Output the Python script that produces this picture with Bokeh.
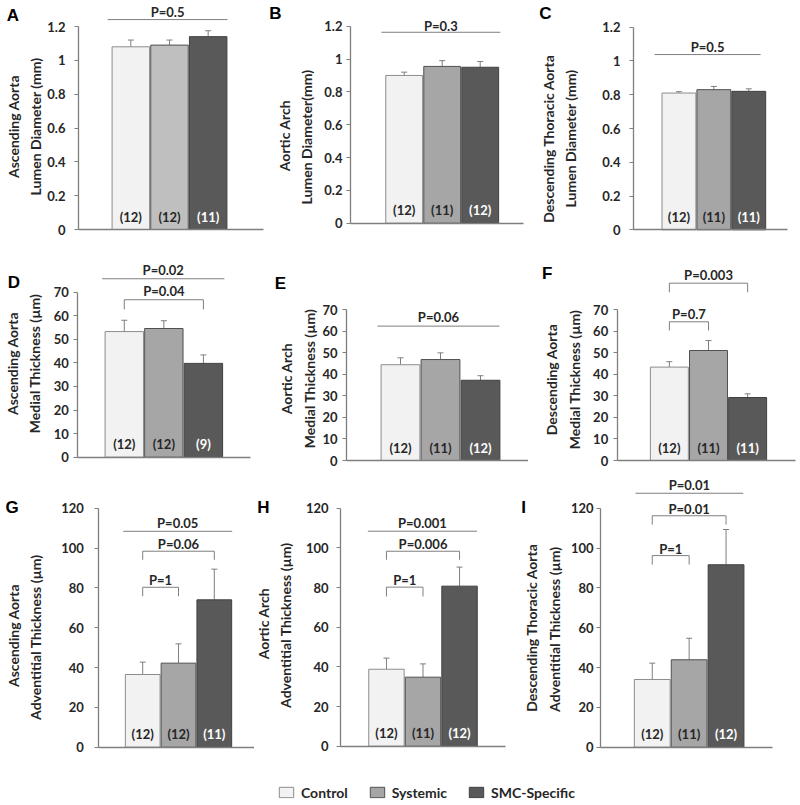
import math
from bokeh.plotting import figure
from bokeh.models import (ColumnDataSource, FixedTicker, Whisker, TeeHead,
                          Legend, LegendItem, Range1d)
from bokeh.layouts import column, row
from bokeh.embed import file_html
from bokeh.resources import INLINE
from bokeh.core.properties import value

# ---------------- data ----------------
groups = ["Control", "Systemic", "SMC-Specific"]
fill_colors = ["#f2f2f2", "#a6a6a6", "#595959"]
line_colors = ["#8c8c8c", "#505050", "#404040"]
count_colors = ["#262626", "#262626", "#ffffff"]

lumen_ticks = [0, 0.2, 0.4, 0.6, 0.8, 1, 1.2]
lumen_tick_labels = ["0", "0.2", "0.4", "0.6", "0.8", "1", "1.2"]
medial_ticks = [0, 10, 20, 30, 40, 50, 60, 70]
medial_tick_labels = ["0", "10", "20", "30", "40", "50", "60", "70"]
advent_ticks = [0, 20, 40, 60, 80, 100, 120]
advent_tick_labels = ["0", "20", "40", "60", "80", "100", "120"]

# brackets: (x0, x1, y, leg_y or None, label, label_y)
a_mean = [1.08, 1.09, 1.14]
a_err = [0.04, 0.03, 0.035]
a_n = [12, 12, 11]
a_ylabel = "Ascending Aorta\nLumen Diameter (mm)"
a_brackets = [(-0.6, 2.5, 1.241, None, "P=0.5", 1.283)]

b_mean = [0.90, 0.955, 0.95]
b_err = [0.02, 0.035, 0.035]
b_n = [12, 11, 12]
b_ylabel = "Aortic Arch\nLumen  Diameter(mm)"
b_brackets = [(-0.6, 2.53, 1.163, None, "P=0.3", 1.2)]

c_mean = [0.81, 0.83, 0.82]
c_err = [0.008, 0.019, 0.015]
c_n = [12, 11, 11]
c_ylabel = "Descending Thoracic Aorta\nLumen Diameter (mm)"
c_brackets = [(-0.7, 2.34, 1.038, None, "P=0.5", 1.082)]

d_mean = [53.3, 54.6, 39.8]
d_err = [4.8, 3.3, 3.6]
d_n = [12, 12, 9]
d_ylabel = "Ascending Aorta\nMedial Thickness (µm)"
d_brackets = [(-0.56, 2.53, 75.7, None, "P=0.02", 79.5),
              (0, 2, 66.8, 62.7, "P=0.04", 70.7)]

e_mean = [44.4, 46.8, 37.2]
e_err = [3.2, 3.1, 2.1]
e_n = [12, 11, 12]
e_ylabel = "Aortic Arch\nMedial Thickness (µm)"
e_brackets = [(-0.575, 2.475, 62.3, None, "P=0.06", 66.3)]

f_mean = [43.3, 51.0, 29.2]
f_err = [2.5, 4.6, 1.7]
f_n = [12, 11, 11]
f_ylabel = "Descending Aorta\nMedial Thickness (µm)"
f_brackets = [(0, 2, 82.2, 78.0, "P=0.003", 85.8),
              (0, 1, 64.3, 60.3, "P=0.7", 67.7)]

g_mean = [36.5, 42.2, 74.0]
g_err = [6.2, 9.7, 15.4]
g_n = [12, 12, 11]
g_ylabel = "Ascending Aorta\nAdventitial  Thickness (µm)"
g_brackets = [(-0.545, 2.5, 108.4, None, "P=0.05", 112.4),
              (0, 2, 98.4, 94.1, "P=0.06", 102.1),
              (0, 1, 80.3, 75.8, "P=1", 84.0)]

h_mean = [38.8, 34.8, 80.7]
h_err = [5.6, 6.7, 9.6]
h_n = [12, 11, 12]
h_ylabel = "Aortic Arch\nAdventitial  Thickness (µm)"
h_brackets = [(-0.51, 2.48, 108.4, None, "P=0.001", 112.5),
              (0, 2, 98.3, 94.0, "P=0.006", 102.0),
              (0, 1, 80.2, 75.5, "P=1", 83.9)]

i_mean = [34.0, 43.9, 91.6]
i_err = [8.2, 10.8, 17.7]
i_n = [12, 11, 12]
i_ylabel = "Descending Thoracic Aorta\nAdventitial  Thickness (µm)"
i_brackets = [(-0.455, 2.465, 127.5, None, "P=0.01", 131.4),
              (0, 2, 116.2, 111.8, "P=0.01", 119.7),
              (0, 1, 96.2, 91.7, "P=1", 99.6)]

FONT = "Lato"
AX = "#7f7f7f"
TXT = "#262626"


def make_panel(letter, mean, err, n, ticks, tick_labels, ylabel, brackets, geo,
               fills=fill_colors):
    # geo values are page pixel positions (layout only)
    fx0, fx1 = geo["col"]
    fy0, fy1 = geo["row"]
    fl, fr, fb, ytop = geo["l"], geo["r"], geo["b"], geo["ytop"]
    bl, br = geo["bars"]
    ymax = ticks[-1]
    scale = (fb - ytop) / ymax
    unit = (br - bl) / 3.0
    x_start = -0.5 - (bl - fx0) / unit
    x_end = x_start + (fx1 - fx0) / unit
    y_start = -(fy1 - fb) / scale
    y_end = (fb - fy0) / scale

    def dx(px):
        return x_start + (px - fx0) / unit

    def dy(py):
        return (fb - py) / scale

    p = figure(width=int(fx1 - fx0), height=int(fy1 - fy0),
               x_range=Range1d(x_start, x_end), y_range=Range1d(y_start, y_end),
               output_backend="svg", toolbar_location=None, min_border=0,
               outline_line_color=None, background_fill_color="white",
               border_fill_color="white")
    p.xgrid.visible = False
    p.ygrid.visible = False

    src = ColumnDataSource(dict(
        x=[0, 1, 2], top=mean, upper=[m + e for m, e in zip(mean, err)],
        fill=fills, line=line_colors, n=["(%d)" % k for k in n],
        ny=[13.0 / scale] * 3, tc=count_colors))
    p.vbar(x="x", top="top", bottom=0, width=0.97, fill_color="fill",
           line_color="line", line_width=1, source=src)
    p.add_layout(Whisker(source=src, base="x", lower="top", upper="upper",
                         line_color=AX, line_width=1, lower_head=None,
                         upper_head=TeeHead(size=6, line_color=AX, line_width=1)))
    p.text(x="x", y="ny", text="n", source=src, text_color="tc",
           text_font=value(FONT), text_font_style="bold", text_font_size="13px",
           text_align="center", text_baseline="middle")

    xs, ys, tx, ty, tt = [], [], [], [], []
    for (x0, x1, y, leg, lab, ly) in brackets:
        if leg is None:
            xs.append([x0, x1]); ys.append([y, y])
        else:
            xs.append([x0, x0, x1, x1]); ys.append([leg, y, y, leg])
        tx.append((x0 + x1) / 2); ty.append(ly); tt.append(lab)
    p.multi_line(xs=xs, ys=ys, line_color=AX, line_width=1)
    psrc = ColumnDataSource(dict(x=tx, y=ty, t=tt))
    p.text(x="x", y="y", text="t", source=psrc, text_color=TXT,
           text_font=value(FONT), text_font_style="bold",
           text_font_size="13px", text_align="center", text_baseline="middle")

    # panel letter
    p.text(x=[dx(geo["letter"][0])], y=[dy(geo["letter"][1])], text=[letter],
           text_font=value("Liberation Sans"), text_font_style="bold",
           text_font_size="17px", text_align="center", text_baseline="middle",
           text_color="#000000")

    # y-axis title (rotated, two lines)
    p.text(x=[dx(geo["title"][0])], y=[dy(geo["title"][1])], text=[ylabel],
           angle=math.pi / 2, text_font=value(FONT), text_font_style="bold",
           text_font_size="14px", text_align="center", text_baseline="middle",
           text_color=TXT, text_line_height=1.3)

    # x axis: baseline only
    xa = p.xaxis[0]
    xa.fixed_location = 0
    xa.bounds = (dx(fl), dx(fr))
    xa.ticker = FixedTicker(ticks=[])
    xa.axis_line_color = AX
    xa.axis_line_width = 1.3
    xa.major_tick_line_color = None
    xa.minor_tick_line_color = None
    xa.major_label_text_font_size = "0px"

    ya = p.yaxis[0]
    ya.fixed_location = dx(fl)
    ya.ticker = FixedTicker(ticks=ticks)
    ya.bounds = (0, ymax)
    ya.major_label_overrides = {(int(t) if float(t).is_integer() else t): l
                                for t, l in zip(ticks, tick_labels)}
    ya.axis_line_color = AX
    ya.axis_line_width = 1.3
    ya.major_tick_line_color = AX
    ya.major_tick_out = 4
    ya.major_tick_in = 0
    ya.minor_tick_line_color = None
    ya.major_label_standoff = geo["ls"]
    ya.major_label_text_font = FONT
    ya.major_label_text_font_style = "bold"
    ya.major_label_text_font_size = "13px"
    ya.major_label_text_color = TXT
    return p


row1 = (0, 238)
row2 = (238, 472)
row3 = (472, 775)
c1, c2, c3 = (0, 265), (265, 528), (528, 798)
r3c1, r3c2, r3c3 = (0, 254), (254, 518), (518, 798)

geoA = dict(col=c1, row=row1, l=78, r=263, b=229, ytop=26, bars=(111, 227),
            letter=(12.3, 15), title=(24, 126), ls=9)
geoB = dict(col=c2, row=row1, l=350, r=523, b=222.7, ytop=25.7, bars=(384.7, 498.7),
            letter=(275, 13.3), title=(295, 135), ls=4)
geoC = dict(col=c3, row=row1, l=633, r=787, b=229.3, ytop=26.7, bars=(661, 765.7),
            letter=(545, 13.3), title=(559, 138), ls=9)
geoD = dict(col=c1, row=row2, l=77.3, r=250, b=456.7, ytop=291.7, bars=(104, 222.7),
            letter=(13.3, 281.7), title=(23.3, 363), ls=5)
geoE = dict(col=c2, row=row2, l=346, r=528, b=460, ytop=309, bars=(380, 500),
            letter=(280, 282.7), title=(297.5, 378), ls=5)
geoF = dict(col=c3, row=row2, l=616.7, r=795, b=460, ytop=309, bars=(649.3, 766.7),
            letter=(546.7, 273.3), title=(562.5, 379), ls=5)
geoG = dict(col=r3c1, row=row3, l=98.3, r=254, b=746.7, ytop=507.7, bars=(124.3, 231.7),
            letter=(11.7, 506.7), title=(24, 635), ls=11)
geoH = dict(col=r3c2, row=row3, l=340, r=505, b=745.7, ytop=507.7, bars=(367.7, 477.3),
            letter=(263, 506.7), title=(274, 623), ls=8)
geoI = dict(col=r3c3, row=row3, l=600, r=771.7, b=746.7, ytop=507.7, bars=(633.3, 744),
            letter=(523, 506.7), title=(542.5, 627), ls=3)

pA = make_panel("A", a_mean, a_err, a_n, lumen_ticks, lumen_tick_labels, a_ylabel, a_brackets, geoA,
                fills=["#f2f2f2", "#bfbfbf", "#595959"])
pB = make_panel("B", b_mean, b_err, b_n, lumen_ticks, lumen_tick_labels, b_ylabel, b_brackets, geoB)
pC = make_panel("C", c_mean, c_err, c_n, lumen_ticks, lumen_tick_labels, c_ylabel, c_brackets, geoC)
pD = make_panel("D", d_mean, d_err, d_n, medial_ticks, medial_tick_labels, d_ylabel, d_brackets, geoD)
pE = make_panel("E", e_mean, e_err, e_n, medial_ticks, medial_tick_labels, e_ylabel, e_brackets, geoE)
pF = make_panel("F", f_mean, f_err, f_n, medial_ticks, medial_tick_labels, f_ylabel, f_brackets, geoF)
pG = make_panel("G", g_mean, g_err, g_n, advent_ticks, advent_tick_labels, g_ylabel, g_brackets, geoG)
pH = make_panel("H", h_mean, h_err, h_n, advent_ticks, advent_tick_labels, h_ylabel, h_brackets, geoH)
pI = make_panel("I", i_mean, i_err, i_n, advent_ticks, advent_tick_labels, i_ylabel, i_brackets, geoI)

# legend strip
leg = figure(width=798, height=28, x_range=Range1d(0, 1), y_range=Range1d(0, 1),
             output_backend="svg", toolbar_location=None, x_axis_location=None,
             y_axis_location=None, min_border_left=277, min_border_right=0,
             min_border_top=6, min_border_bottom=0, outline_line_color=None,
             border_fill_color="white", background_fill_color="white")
leg.xgrid.visible = False
leg.ygrid.visible = False
items = []
for g, fc, lc in zip(groups, fill_colors, line_colors):
    r = leg.vbar(x=[5], top=[1], width=0.1, fill_color=fc, line_color=lc, line_width=1)
    items.append(LegendItem(label=g, renderers=[r]))
legend = Legend(items=items, orientation="horizontal", location="left",
                margin=0, padding=0, spacing=20, label_standoff=6,
                glyph_width=18, glyph_height=13,
                label_text_font=FONT, label_text_font_style="bold",
                label_text_font_size="14px", label_text_color=TXT,
                border_line_color=None, background_fill_alpha=0)
leg.add_layout(legend, "center")

layout = column(row(pA, pB, pC), row(pD, pE, pF), row(pG, pH, pI), leg)
open("out.html", "w").write(file_html(layout, INLINE))
